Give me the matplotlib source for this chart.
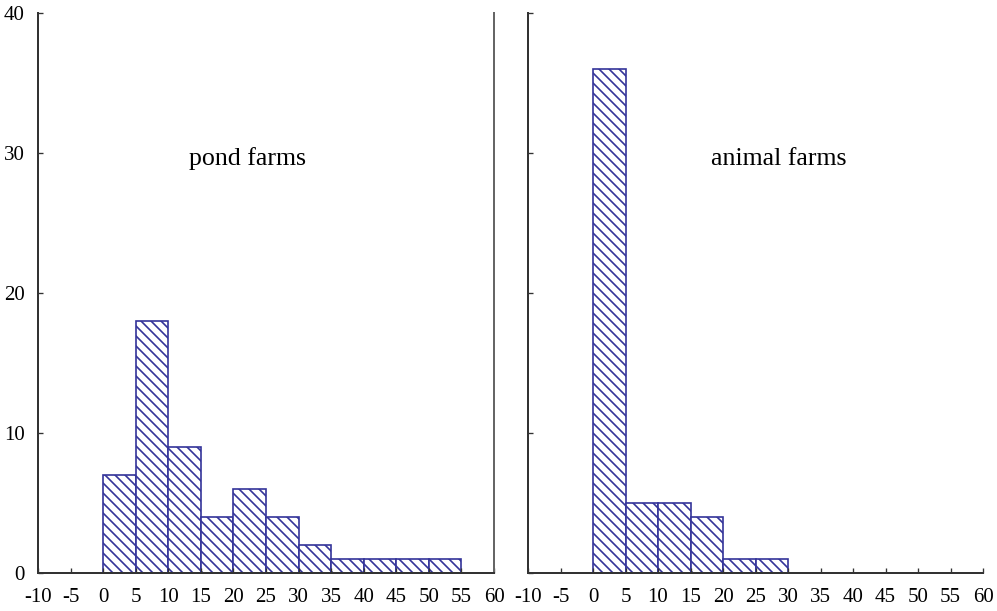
import matplotlib.pyplot as plt

# bins (left edges, width 5) and counts
bin_edges = [0, 5, 10, 15, 20, 25, 30, 35, 40, 45, 50]
pond_counts = [7, 18, 9, 4, 6, 4, 2, 1, 1, 1, 1]
animal_counts = [36, 5, 5, 4, 1, 1, 0, 0, 0, 0, 0]
titles = ["pond farms", "animal farms"]
x_ticks = list(range(-10, 65, 5))
y_ticks = [0, 10, 20, 30, 40]

bar_color = "#34349a"
plt.rcParams["font.family"] = ["Liberation Serif", "DejaVu Serif"]
plt.rcParams["hatch.linewidth"] = 1.0
plt.rcParams["hatch.color"] = bar_color

fig = plt.figure(figsize=(997 / 120, 611 / 120), dpi=120)
ax1 = fig.add_axes([0.0381, 0.0622, 0.4574, 0.9165])
ax2 = fig.add_axes([0.5296, 0.0622, 0.4564, 0.9165])

for ax, counts, title, tx in [(ax1, pond_counts, titles[0], 22.2),
                              (ax2, animal_counts, titles[1], 28.5)]:
    ax.bar(bin_edges, counts, width=5, align="edge", color="white",
           edgecolor=bar_color, linewidth=1.0, hatch="\\\\\\\\")
    ax.set_xlim(-10, 60)
    ax.set_ylim(0, 40)
    ax.set_xticks(x_ticks)
    ax.set_xticklabels([str(t) for t in x_ticks])
    ax.set_yticks(y_ticks)
    ax.tick_params(direction="in", length=3, width=0.8, labelsize=12.5,
                   colors="#333333", labelcolor="black")
    ax.tick_params(axis="x", pad=9)
    ax.tick_params(axis="y", pad=8)
    ax.spines["top"].set_visible(False)
    for s in ["left", "right", "bottom"]:
        ax.spines[s].set_linewidth(1.2)
        ax.spines[s].set_color("#333333")
    ax.text(tx, 29.6, title, ha="center", va="center", fontsize=15.5)

ax1.spines["right"].set_color("#666666")
ax2.spines["right"].set_visible(False)
ax2.set_yticklabels([])

fig.savefig("out.png", dpi=120)
